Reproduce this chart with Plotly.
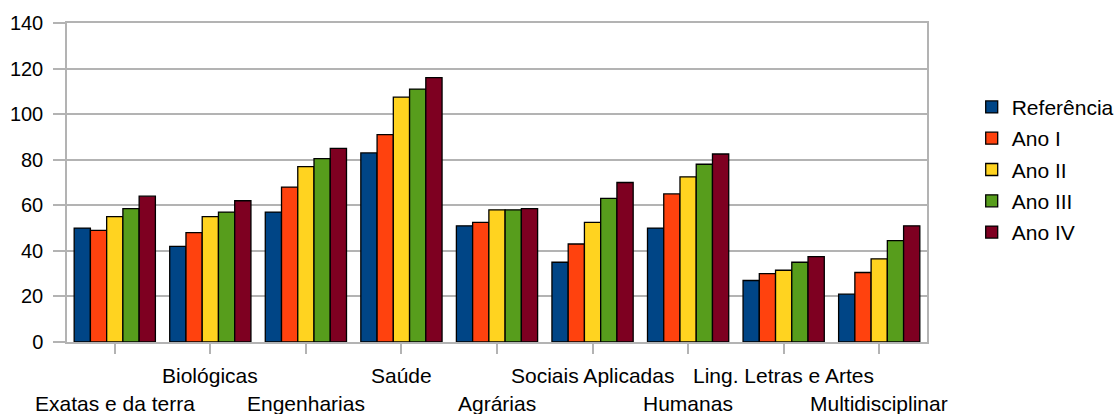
import plotly.graph_objects as go

# Areas of knowledge (x categories)
categorias = [
    "Exatas e da terra", "Biológicas", "Engenharias", "Saúde", "Agrárias",
    "Sociais Aplicadas", "Humanas", "Ling. Letras e Artes", "Multidisciplinar",
]

# Series values per category
referencia = [50, 42, 57, 83, 51, 35, 50, 27, 21]
ano_i = [49, 48, 68, 91, 52.5, 43, 65, 30, 30.5]
ano_ii = [55, 55, 77, 107.5, 58, 52.5, 72.5, 31.5, 36.5]
ano_iii = [58.5, 57, 80.5, 111, 58, 63, 78, 35, 44.5]
ano_iv = [64, 62, 85, 116, 58.5, 70, 82.5, 37.5, 51]

series = [
    ("Referência", referencia, "#004586"),
    ("Ano I", ano_i, "#ff420e"),
    ("Ano II", ano_ii, "#ffd320"),
    ("Ano III", ano_iii, "#579d1c"),
    ("Ano IV", ano_iv, "#7e0021"),
]

FONT = "Liberation Sans, Arial, sans-serif"
GRID = "#b3b3b3"

fig = go.Figure()
for i, (nome, valores, cor) in enumerate(series):
    fig.add_trace(go.Bar(
        name=nome,
        x=categorias,
        y=valores,
        marker=dict(color=cor, line=dict(color="#000000", width=1.3)),
        legendgroup=f"g{i}",
    ))

# Staggered category labels: alternate rows under the axis
for i, cat in enumerate(categorias):
    fig.add_annotation(
        x=cat, xref="x", y=0, yref="paper",
        text=cat, showarrow=False,
        yanchor="middle", xanchor="center",
        yshift=-33 if i % 2 == 1 else -61,
        font=dict(family=FONT, size=21, color="#000000"),
    )

fig.update_layout(
    width=1116, height=414,
    margin=dict(l=67, r=189, t=23, b=72, autoexpand=False),
    paper_bgcolor="#ffffff",
    plot_bgcolor="#ffffff",
    barmode="group",
    bargap=0.15,
    bargroupgap=0,
    font=dict(family=FONT, size=20, color="#000000"),
    legend=dict(
        xref="container",
        x=0.8707, xanchor="left",
        y=0.54, yanchor="middle",
        font=dict(family=FONT, size=21, color="#000000"),
        tracegroupgap=1,
        bgcolor="rgba(0,0,0,0)",
    ),
    xaxis=dict(
        type="category",
        range=[-0.5, len(categorias) - 0.5],
        autorange=False,
        showticklabels=False,
        ticks="outside", ticklen=10, tickcolor=GRID, tickwidth=1.5,
        showline=True, linecolor=GRID, linewidth=1.5, mirror=True,
        showgrid=False,
    ),
    yaxis=dict(
        range=[0, 140], dtick=20,
        ticks="outside", ticklen=12, tickcolor=GRID, tickwidth=1.5,
        showline=True, linecolor=GRID, linewidth=1.5, mirror=True,
        showgrid=True, gridcolor=GRID, gridwidth=1.5,
        zeroline=False,
        tickfont=dict(family=FONT, size=20, color="#000000"),
        ticklabelstandoff=6,
    ),
)

fig.write_html("out.html")
